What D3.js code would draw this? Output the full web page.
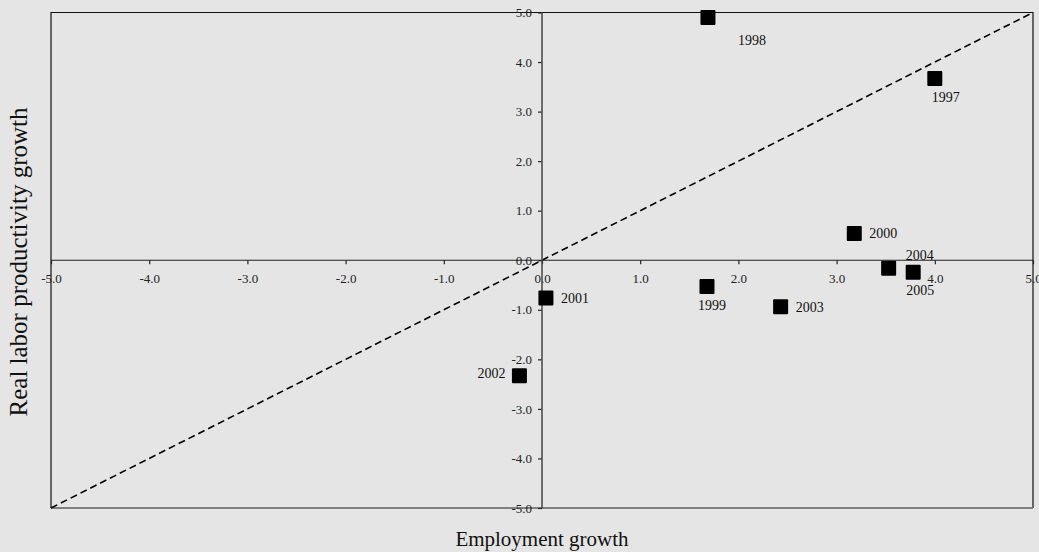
<!DOCTYPE html>
<html>
<head>
<meta charset="utf-8">
<script src="https://cdn.jsdelivr.net/npm/d3@7"></script>
<style>
  body { margin: 0; background: #e5e5e5; }
  svg { display: block; font-family: "Liberation Serif", "Times New Roman", serif; }
</style>
</head>
<body>
<div id="chart"></div>
<script>
// data
const years = ["1997", "1998", "1999", "2000", "2001", "2002", "2003", "2004", "2005"]
const employmentGrowth = [4.00, 1.69, 1.68, 3.18, 0.04, -0.23, 2.43, 3.53, 3.78]
const productivityGrowth = [3.67, 4.90, -0.53, 0.54, -0.76, -2.33, -0.94, -0.16, -0.24]
const tickValues = [-5, -4, -3, -2, -1, 0, 1, 2, 3, 4, 5]

// where each year label sits relative to its marker
const labelPlacement = {
    "1997": {anchor: "middle", dx: 11, dy: 24},
    "1998": {anchor: "start", dx: 30, dy: 28},
    "1999": {anchor: "middle", dx: 5, dy: 23},
    "2000": {anchor: "start", dx: 15, dy: 5},
    "2001": {anchor: "start", dx: 15, dy: 5},
    "2002": {anchor: "end", dx: -14, dy: 2},
    "2003": {anchor: "start", dx: 15, dy: 5},
    "2004": {anchor: "middle", dx: 31, dy: -8},
    "2005": {anchor: "middle", dx: 7, dy: 23}
}

const width = 1039
const height = 552
const plot = {left: 51, right: 1033, top: 12.5, bottom: 508}

const points = years.map((y, i) => ({year: y, x: employmentGrowth[i], y: productivityGrowth[i]}))

const svg = d3.select("#chart")
    .append("svg")
    .attr("width", width)
    .attr("height", height)

svg.append("rect")
    .attr("width", width)
    .attr("height", height)
    .attr("fill", "#e5e5e5")

const x = d3.scaleLinear().domain([-5, 5]).range([plot.left, plot.right])
const y = d3.scaleLinear().domain([-5, 5]).range([plot.bottom, plot.top])

// plot frame: black on three sides, grey at the bottom
svg.append("path")
    .attr("d", `M${plot.left},${plot.bottom}V${plot.top}H${plot.right}V${plot.bottom}`)
    .attr("fill", "none")
    .attr("stroke", "#111")
    .attr("stroke-width", 1.2)
svg.append("line")
    .attr("x1", plot.left).attr("x2", plot.right)
    .attr("y1", plot.bottom).attr("y2", plot.bottom)
    .attr("stroke", "#808080")
    .attr("stroke-width", 2)

// 45 degree reference line
svg.append("line")
    .attr("x1", x(-5)).attr("y1", y(-5))
    .attr("x2", x(5)).attr("y2", y(5))
    .attr("stroke", "#000")
    .attr("stroke-width", 1.6)
    .attr("stroke-dasharray", "7,4")

const fmt = d => d.toFixed(1)

const xAxis = svg.append("g")
    .attr("transform", `translate(0,${y(0)})`)
    .call(d3.axisBottom(x).tickValues(tickValues).tickFormat(fmt).tickSize(4).tickPadding(10))
const yAxis = svg.append("g")
    .attr("transform", `translate(${x(0)},0)`)
    .call(d3.axisLeft(y).tickValues(tickValues).tickFormat(fmt).tickSize(4).tickPadding(6))

for (const ax of [xAxis, yAxis]) {
    ax.select(".domain").remove()
    ax.selectAll("line").attr("stroke", "#222").attr("stroke-width", 1.2)
    ax.selectAll("text")
        .attr("fill", "#222")
        .style("font-family", '"Liberation Serif", "Times New Roman", serif')
        .style("font-size", "13px")
}

// zero lines
svg.append("line")
    .attr("x1", plot.left).attr("x2", plot.right)
    .attr("y1", y(0)).attr("y2", y(0))
    .attr("stroke", "#222")
    .attr("stroke-width", 1.2)
svg.append("line")
    .attr("x1", x(0)).attr("x2", x(0))
    .attr("y1", plot.top).attr("y2", plot.bottom)
    .attr("stroke", "#444")
    .attr("stroke-width", 1.5)

// markers
const sq = 15
svg.append("g")
    .selectAll("rect")
    .data(points)
    .join("rect")
    .attr("x", d => x(d.x) - sq / 2)
    .attr("y", d => y(d.y) - sq / 2)
    .attr("width", sq)
    .attr("height", sq)
    .attr("rx", 1)
    .attr("fill", "#000")

svg.append("g")
    .selectAll("text")
    .data(points)
    .join("text")
    .attr("x", d => x(d.x) + labelPlacement[d.year].dx)
    .attr("y", d => y(d.y) + labelPlacement[d.year].dy)
    .attr("text-anchor", d => labelPlacement[d.year].anchor)
    .attr("fill", "#111")
    .style("font-size", "14px")
    .text(d => d.year)

// axis titles
svg.append("text")
    .attr("x", (plot.left + plot.right) / 2)
    .attr("y", 546)
    .attr("text-anchor", "middle")
    .attr("fill", "#111")
    .style("font-size", "21px")
    .text("Employment growth")

svg.append("text")
    .attr("transform", `translate(27,262) rotate(-90)`)
    .attr("text-anchor", "middle")
    .attr("fill", "#111")
    .style("font-size", "25px")
    .text("Real labor productivity growth")
</script>
</body>
</html>
